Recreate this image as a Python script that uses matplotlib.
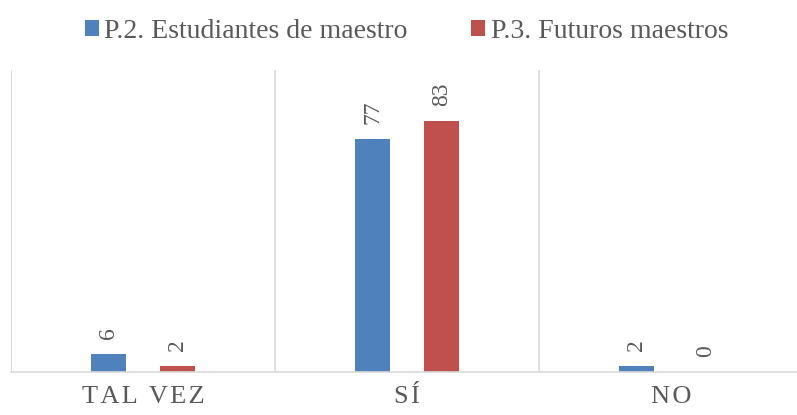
import matplotlib.pyplot as plt
import numpy as np

plt.rcParams['font.family'] = ['Liberation Serif', 'DejaVu Serif']

# datos
categorias = ['TAL VEZ', 'SÍ', 'NO']
series = ['P.2. Estudiantes de maestro', 'P.3. Futuros maestros']
estudiantes = [6, 77, 2]
futuros = [2, 83, 0]
colores = ['#4f81bd', '#c0504d']
gris = '#595959'

fig = plt.figure(figsize=(7.97, 4.15), dpi=100)
ax = fig.add_axes([11 / 797, 43 / 415, 792 / 797, 302 / 415])

x = np.arange(len(categorias))
ancho = 0.133
off = 0.13

b1 = ax.bar(x - off, estudiantes, ancho, color=colores[0], label=series[0])
b2 = ax.bar(x + off, futuros, ancho, color=colores[1], label=series[1])

for barras in (b1, b2):
    for b in barras:
        h = b.get_height()
        ax.annotate(str(int(h)), (b.get_x() + b.get_width() / 2, h),
                    xytext=(0, 11), textcoords='offset points',
                    ha='center', va='bottom', rotation=90,
                    fontsize=17, color=gris)

ax.set_xlim(-0.5, 2.5)
ax.set_ylim(0, 100)

# separadores entre categorias
for s in [-0.5, 0.5, 1.5, 2.5]:
    ax.axvline(s, color='#d9d9d9', lw=1.2, zorder=0)

for lado in ['top', 'right', 'left']:
    ax.spines[lado].set_visible(False)
ax.spines['bottom'].set_color('#d9d9d9')
ax.spines['bottom'].set_linewidth(1.2)

etiquetas = ['\u200a'.join(c) for c in categorias]
ax.set_xticks(x)
ax.set_xticklabels(etiquetas, fontsize=19, color=gris)
ax.tick_params(axis='x', length=0, pad=10)
ax.set_yticks([])

fig.legend(loc='upper center', bbox_to_anchor=(0.51, 1.015), ncol=2,
           frameon=False, fontsize=20, labelcolor=gris,
           handlelength=0.5, handleheight=0.5, handletextpad=0.2,
           columnspacing=2.3)

fig.savefig('out.png', dpi=100)
